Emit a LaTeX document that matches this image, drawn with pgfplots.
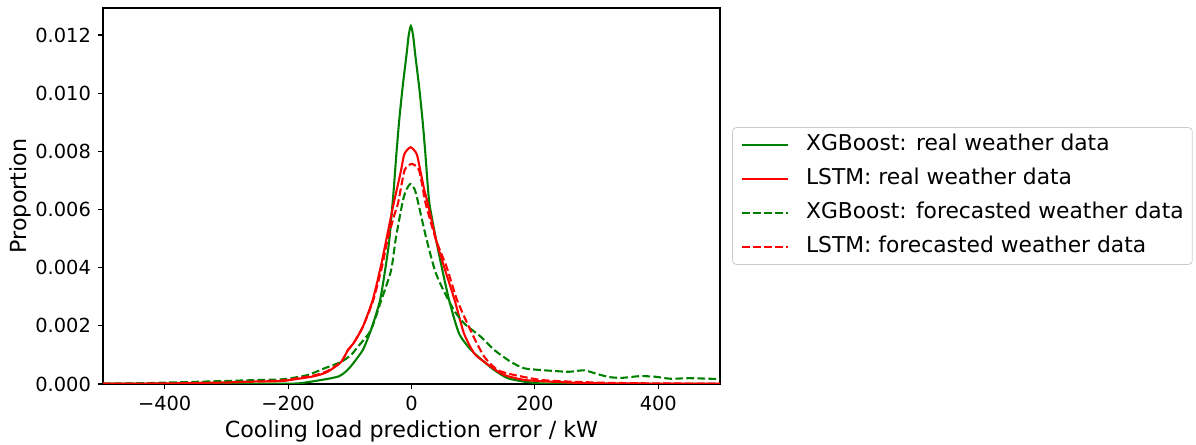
\documentclass[border=0pt]{standalone}
\usepackage{fontspec}
\setmainfont{DejaVu Sans}
\usepackage{pgfplots}
\pgfplotsset{compat=1.18}

\definecolor{mplgreen}{HTML}{008000}
\definecolor{mplred}{HTML}{FF0000}

\begin{document}
\fontsize{9.7}{11.6}\selectfont
\begin{tikzpicture}
\useasboundingbox (0pt,0pt) rectangle (598pt,222.5pt);
\begin{axis}[
  at={(51.5pt,30.5pt)}, anchor=south west,
  scale only axis, width=308.5pt, height=188pt,
  xmin=-500, xmax=500, ymin=0, ymax=0.01293,
  xtick={-400,-200,0,200,400},
  xticklabels={−400,−200,0,200,400},
  ytick={0,0.002,0.004,0.006,0.008,0.010,0.012},
  yticklabels={0.000,0.002,0.004,0.006,0.008,0.010,0.012},
  scaled y ticks=false,
  minor tick num=0,
  tick align=outside, xtick pos=bottom, ytick pos=left,
  major tick length=2.6pt,
  every tick/.style={black, line width=0.55pt},
  axis line style={line width=0.55pt},
  tick label style={font=\fontsize{9.7}{11.6}\selectfont},
  xlabel={Cooling load prediction error / kW},
  ylabel={Proportion},
  every axis x label/.style={at={(axis description cs:0.5,0)}, yshift=-23.5pt,
    anchor=center, font=\fontsize{11.1}{13.3}\selectfont},
  every axis y label/.style={at={(axis description cs:0,0.5)}, xshift=-41.5pt,
    rotate=90, anchor=center, font=\fontsize{11.1}{13.3}\selectfont},
  legend style={at={(1,0.5)}, anchor=west, xshift=6pt,
    draw=black!20, rounded corners=2pt, inner xsep=4.3pt, inner ysep=3.3pt,
    font=\fontsize{10.9}{13.1}\selectfont,
    nodes={inner xsep=0pt, inner ysep=0pt, text height=8.3pt, text depth=2.6pt},
    row sep=6.1pt},
  legend cell align=left,
  legend image code/.code={\draw[#1] (0pt,0pt) -- (23pt,0pt); \path (31.5pt,0pt);},
  every axis plot/.append style={line width=1.04pt, smooth, tension=0.4},
]
% XGBoost, real weather data
\addplot[mplgreen] coordinates {
 (-500,0.00001) (-350,0.00001) (-220,0.00001) (-184,0.00002) (-157,0.00010)
 (-130,0.00020) (-117,0.00027) (-108,0.00040) (-99,0.00059) (-79,0.00117)
 (-65,0.0019) (-51,0.00288) (-42,0.00402) (-36,0.00494) (-31,0.00614)
 (-28.5,0.00677) (-24.5,0.00791) (-20,0.00905) (-14.5,0.01019) (-8,0.01134)
 (-4.5,0.0120) (-1,0.01231) (2.5,0.0120) (6,0.01134) (12.5,0.01019)
 (18,0.00905) (22.5,0.00791) (26.5,0.00677) (29.5,0.00614) (40,0.00494)
 (49,0.00402) (61,0.00288) (77,0.00174) (96.4,0.00117) (117.9,0.00076)
 (134.1,0.00048) (155.8,0.00020) (182.7,0.00008) (209.7,0.00002) (260,0.00001)
 (500,0.0)};
\addlegendentry{XGBoost: real weather data}
% LSTM, real weather data
\addplot[mplred] coordinates {
 (-500,0.00001) (-400,0.00002) (-300,0.00006) (-250,0.00009) (-211,0.00010)
 (-190,0.00016) (-157,0.00027) (-136,0.00042) (-114,0.00076) (-103,0.00117)
 (-94,0.0014) (-79,0.00196) (-63,0.00288) (-50,0.00402) (-41,0.00494)
 (-29,0.0062) (-23,0.00676) (-17,0.00734) (-11.5,0.00791) (-1.5,0.00814)
 (8.4,0.00791) (14.3,0.00734) (20.5,0.0067) (26.5,0.0062) (40,0.00494)
 (54,0.00395) (70,0.00288) (85,0.00174) (101.7,0.00105) (117.9,0.00076)
 (128.7,0.00059) (150.3,0.00031) (182.7,0.00014) (225.9,0.00008) (280,0.00003)
 (350,0.00002) (420,0.00001) (500,0.00001)};
\addlegendentry{LSTM: real weather data}
% XGBoost, forecasted weather data
\addplot[mplgreen, dash pattern=on 3.85pt off 1.67pt] coordinates {
 (-500,0.00001) (-449,0.00002) (-341,0.00008) (-260,0.00013) (-211,0.00016)
 (-195,0.0002) (-168,0.00031) (-141,0.00054) (-114,0.00076) (-98,0.001)
 (-87,0.00128) (-66,0.00185) (-49,0.00288) (-33.2,0.0039) (-25.1,0.00505)
 (-14,0.0063) (-8,0.0067) (-1.5,0.00688) (5,0.0067) (10,0.00631)
 (23.5,0.00505) (38,0.0039) (50,0.0033) (68.8,0.00254) (85.5,0.00208)
 (112.6,0.00162) (134.1,0.00117) (161.1,0.00076) (182.7,0.00054) (209.7,0.00048)
 (230,0.00045) (255,0.00042) (280,0.00047) (300,0.00035) (320,0.00024)
 (340,0.00021) (370,0.00027) (395,0.00025) (420,0.00018) (450,0.0002)
 (500,0.00017)};
\addlegendentry{XGBoost: forecasted weather data}
% LSTM, forecasted weather data
\addplot[mplred, dash pattern=on 3.85pt off 1.67pt] coordinates {
 (-500,0.00001) (-400,0.00002) (-300,0.00005) (-211,0.00012) (-190,0.00018)
 (-157,0.0003) (-136,0.00045) (-114,0.00076) (-103,0.00117) (-94,0.0014)
 (-79,0.00196) (-62,0.00288) (-48,0.00402) (-39,0.00494) (-28,0.0058)
 (-22,0.0062) (-17,0.00676) (-11.5,0.00734) (-6,0.0075) (0.3,0.00757)
 (7,0.0075) (12.5,0.00734) (18,0.00677) (23,0.0062) (40,0.00494)
 (57,0.00402) (74,0.00288) (98,0.00174) (117.9,0.00094) (139.6,0.00048)
 (166.5,0.00031) (209.7,0.00014) (258,0.00008) (320,0.00004) (400,0.00002)
 (500,0.00001)};
\addlegendentry{LSTM: forecasted weather data}
\end{axis}
\end{tikzpicture}
\end{document}
